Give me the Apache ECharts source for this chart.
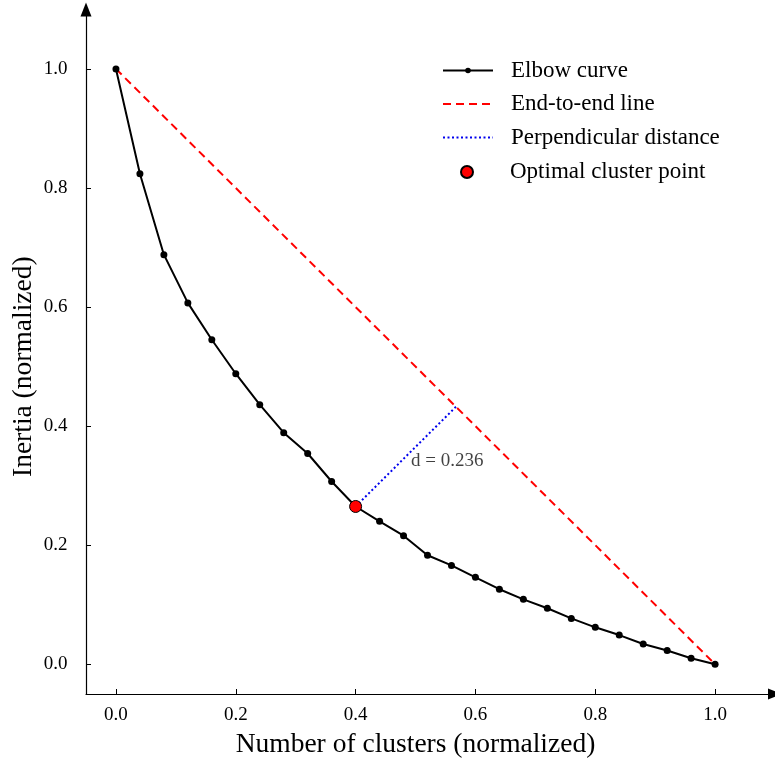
<!DOCTYPE html>
<html>
<head>
<meta charset="utf-8">
<script src="https://cdn.jsdelivr.net/npm/echarts@6/dist/echarts.min.js"></script>
<style>html,body{margin:0;padding:0;background:#fff}#c{width:775px;height:764px}</style>
</head>
<body>
<div id="c"></div>
<script>
var clusterX = [0, 0.04, 0.08, 0.12, 0.16, 0.20, 0.24, 0.28, 0.32, 0.36, 0.40, 0.44, 0.48, 0.52, 0.56, 0.60, 0.64, 0.68, 0.72, 0.76, 0.80, 0.84, 0.88, 0.92, 0.96, 1.00];
var inertiaY = [1.0, 0.824, 0.688, 0.607, 0.545, 0.488, 0.436, 0.389, 0.354, 0.307, 0.265, 0.240, 0.216, 0.183, 0.166, 0.146, 0.126, 0.109, 0.094, 0.077, 0.062, 0.049, 0.034, 0.023, 0.010, 0.0];
var endLine = [[0, 1], [1, 0]];
var optimalPoint = [0.4, 0.265];
var perpFoot = [0.5675, 0.4325];
var distanceLabel = 'd = 0.236';
var labelPos = [0.4925, 0.342];
var tickValues = [0, 0.2, 0.4, 0.6, 0.8, 1.0];

var FONT = '"Liberation Serif", "Times New Roman", serif';
var elbowData = clusterX.map(function (x, i) { return [x, inertiaY[i]]; });
var hidden = {color: 'rgba(0,0,0,0)', borderWidth: 0};

var chart = echarts.init(document.getElementById('c'), null, {renderer: 'canvas'});
chart.setOption({
  animation: false,
  backgroundColor: '#fff',
  grid: {left: 86, right: 0, top: 9.4, bottom: 70, containLabel: false, outerBoundsMode: 'none'},
  xAxis: {
    type: 'value', min: -0.05, max: 1.1,
    name: 'Number of clusters (normalized)', nameLocation: 'middle', nameGap: 37,
    nameTextStyle: {fontFamily: FONT, fontSize: 27.5, color: '#000', padding: [0, 30, 0, 0]},
    splitLine: {show: false},
    axisLine: {show: true, onZero: false, symbol: ['none', 'triangle'], symbolSize: [11, 14], lineStyle: {color: '#000', width: 1.2}},
    axisTick: {show: true, inside: true, length: 5, customValues: tickValues, lineStyle: {color: '#000', width: 1}},
    axisLabel: {customValues: tickValues, margin: 12, fontFamily: FONT, fontSize: 19, color: '#000',
      formatter: function (v) { return v.toFixed(1); }}
  },
  yAxis: {
    type: 'value', min: -0.05, max: 1.1,
    name: 'Inertia (normalized)', nameLocation: 'middle', nameGap: 48, nameRotate: 90, nameMoveOverlap: false,
    nameTextStyle: {fontFamily: FONT, fontSize: 27.5, color: '#000', padding: [0, 30, 0, 0]},
    splitLine: {show: false},
    axisLine: {show: true, onZero: false, symbol: ['none', 'triangle'], symbolSize: [11, 14], lineStyle: {color: '#000', width: 1.2}},
    axisTick: {show: true, inside: true, length: 5, customValues: tickValues, lineStyle: {color: '#000', width: 1}},
    axisLabel: {customValues: tickValues, margin: 18.5, fontFamily: FONT, fontSize: 19, color: '#000',
      formatter: function (v) { return v.toFixed(1); }}
  },
  legend: [
    {
      orient: 'vertical', left: 437, top: 54, itemWidth: 50, itemHeight: 7, itemGap: 10.5,
      textStyle: {fontFamily: FONT, fontSize: 23, lineHeight: 23, color: '#000', padding: [0, 0, 0, 13]},
      data: [
        {name: 'Elbow curve'},
        {name: 'End-to-end line', itemStyle: hidden},
        {name: 'Perpendicular distance', itemStyle: hidden}
      ]
    },
    {
      orient: 'vertical', left: 455, top: 155.5, itemWidth: 50, itemHeight: 12,
      textStyle: {fontFamily: FONT, fontSize: 23, lineHeight: 23, color: '#000', padding: [0, 0, 0, 13]},
      data: ['Optimal cluster point']
    }
  ],
  series: [
    {
      name: 'End-to-end line', type: 'line', data: endLine, showSymbol: false, symbol: 'none', z: 2,
      lineStyle: {color: '#ff0000', width: 2, type: [8, 5]}, itemStyle: {color: '#ff0000'}
    },
    {
      name: 'Perpendicular distance', type: 'line', data: [optimalPoint, perpFoot], showSymbol: false, symbol: 'none', z: 3,
      lineStyle: {color: '#0000ee', width: 2, type: [2, 2.5]}, itemStyle: {color: '#0000ee'}
    },
    {
      name: 'Elbow curve', type: 'line', data: elbowData, symbol: 'circle', symbolSize: 7, z: 4,
      lineStyle: {color: '#000', width: 2}, itemStyle: {color: '#000'}
    },
    {
      name: 'Optimal cluster point', type: 'scatter', data: [optimalPoint], symbol: 'circle', symbolSize: 12, z: 6,
      itemStyle: {color: '#ff0000', borderColor: '#000', borderWidth: 1, opacity: 1}
    },
    {
      name: 'label', type: 'scatter', data: [labelPos], symbolSize: 0, z: 7, silent: true,
      label: {show: true, position: 'right', distance: 0, formatter: distanceLabel,
        fontFamily: FONT, fontSize: 19, color: '#111'}
    }
  ]
});
</script>
</body>
</html>
